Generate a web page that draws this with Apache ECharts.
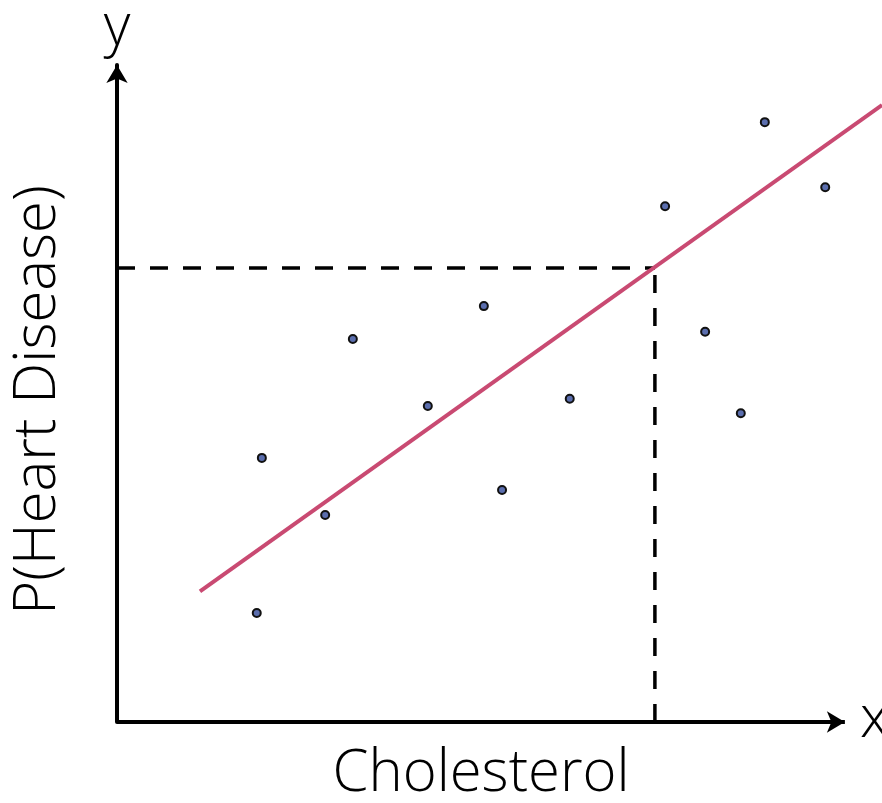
<!DOCTYPE html>
<html>
<head>
<meta charset="utf-8">
<script src="https://cdn.jsdelivr.net/npm/echarts@6/dist/echarts.min.js"></script>
<style>
  html, body { margin: 0; padding: 0; background: #fff; }
  #main { width: 882px; height: 803px; }
</style>
</head>
<body>
<div id="main"></div>
<script>
// sample points (abstract units, 0..10 on each axis)
var pointX = [1.99, 1.92, 2.86, 3.24, 4.27, 5.04, 5.29, 6.22, 7.53, 8.08, 8.57, 8.90, 9.73];
var pointY = [4.02, 1.66, 3.15, 5.83, 4.81, 6.33, 3.53, 4.92, 7.85, 5.94, 4.70, 9.13, 8.14];
// fitted line ends
var lineX = [1.14, 10.51];
var lineY = [1.99, 9.39];
// cut-off guide
var cutX = 7.39;
var cutY = 6.91;
// where the x axis arrow stops
var xAxisEnd = 10;

var myChart = echarts.init(document.getElementById('main'));

var points = [];
for (var i = 0; i < pointX.length; i++) {
	points.push([pointX[i], pointY[i]]);
}
var fit = [];
for (var j = 0; j < lineX.length; j++) {
	fit.push([lineX[j], lineY[j]]);
}

var font = '"Open Sans", Lato, sans-serif';
var dashStyle = { color: '#000', width: 3.5, type: [18, 15] };

var option = {
	animation: false,
	grid: { left: 117, right: 0, top: 65, bottom: 81 },
	xAxis: {
		type: 'value', min: 0, max: 10.51,
		axisLine: { show: false },
		axisTick: { show: false }, axisLabel: { show: false }, splitLine: { show: false }
	},
	yAxis: {
		type: 'value', min: 0, max: 10,
		axisLine: { lineStyle: { color: '#000', width: 4 }, symbol: ['none', 'arrow'], symbolSize: [16, 18] },
		axisTick: { show: false }, axisLabel: { show: false }, splitLine: { show: false }
	},
	series: [
		{
			// x axis line with arrow
			type: 'line',
			data: [],
			markLine: {
				silent: true,
				symbol: ['none', 'arrow'],
				symbolSize: [16, 18],
				label: { show: false },
				lineStyle: { color: '#000', width: 4, type: 'solid' },
				data: [[{ coord: [0, 0] }, { coord: [xAxisEnd, 0] }]]
			},
			z: 1
		},
		{
			type: 'line',
			data: [[0, cutY], [cutX, cutY]],
			symbol: 'none',
			lineStyle: dashStyle,
			z: 1
		},
		{
			type: 'line',
			data: [[cutX, 0], [cutX, cutY]],
			symbol: 'none',
			lineStyle: dashStyle,
			z: 1
		},
		{
			type: 'line',
			data: fit,
			symbol: 'none',
			lineStyle: { color: '#c94a72', width: 4 },
			z: 2
		},
		{
			type: 'scatter',
			data: points,
			symbolSize: 8,
			itemStyle: { color: '#5b6eae', borderColor: '#111', borderWidth: 2, opacity: 1 },
			z: 3
		}
	],
	graphic: [
		{ type: 'text', x: 117, y: 28, style: { text: 'y', font: '300 58px ' + font, fill: '#000', align: 'center', verticalAlign: 'middle' } },
		{ type: 'text', x: 860, y: 720, style: { text: 'x', font: '300 58px ' + font, fill: '#000', align: 'left', verticalAlign: 'middle' } },
		{ type: 'text', x: 481, y: 774, style: { text: 'Cholesterol', font: '300 58px ' + font, fill: '#000', align: 'center', verticalAlign: 'middle' } },
		{ type: 'text', x: 38, y: 400, rotation: Math.PI / 2, style: { text: 'P(Heart Disease)', font: '300 58px ' + font, fill: '#000', align: 'center', verticalAlign: 'middle' } }
	]
};

myChart.setOption(option);
</script>
</body>
</html>
